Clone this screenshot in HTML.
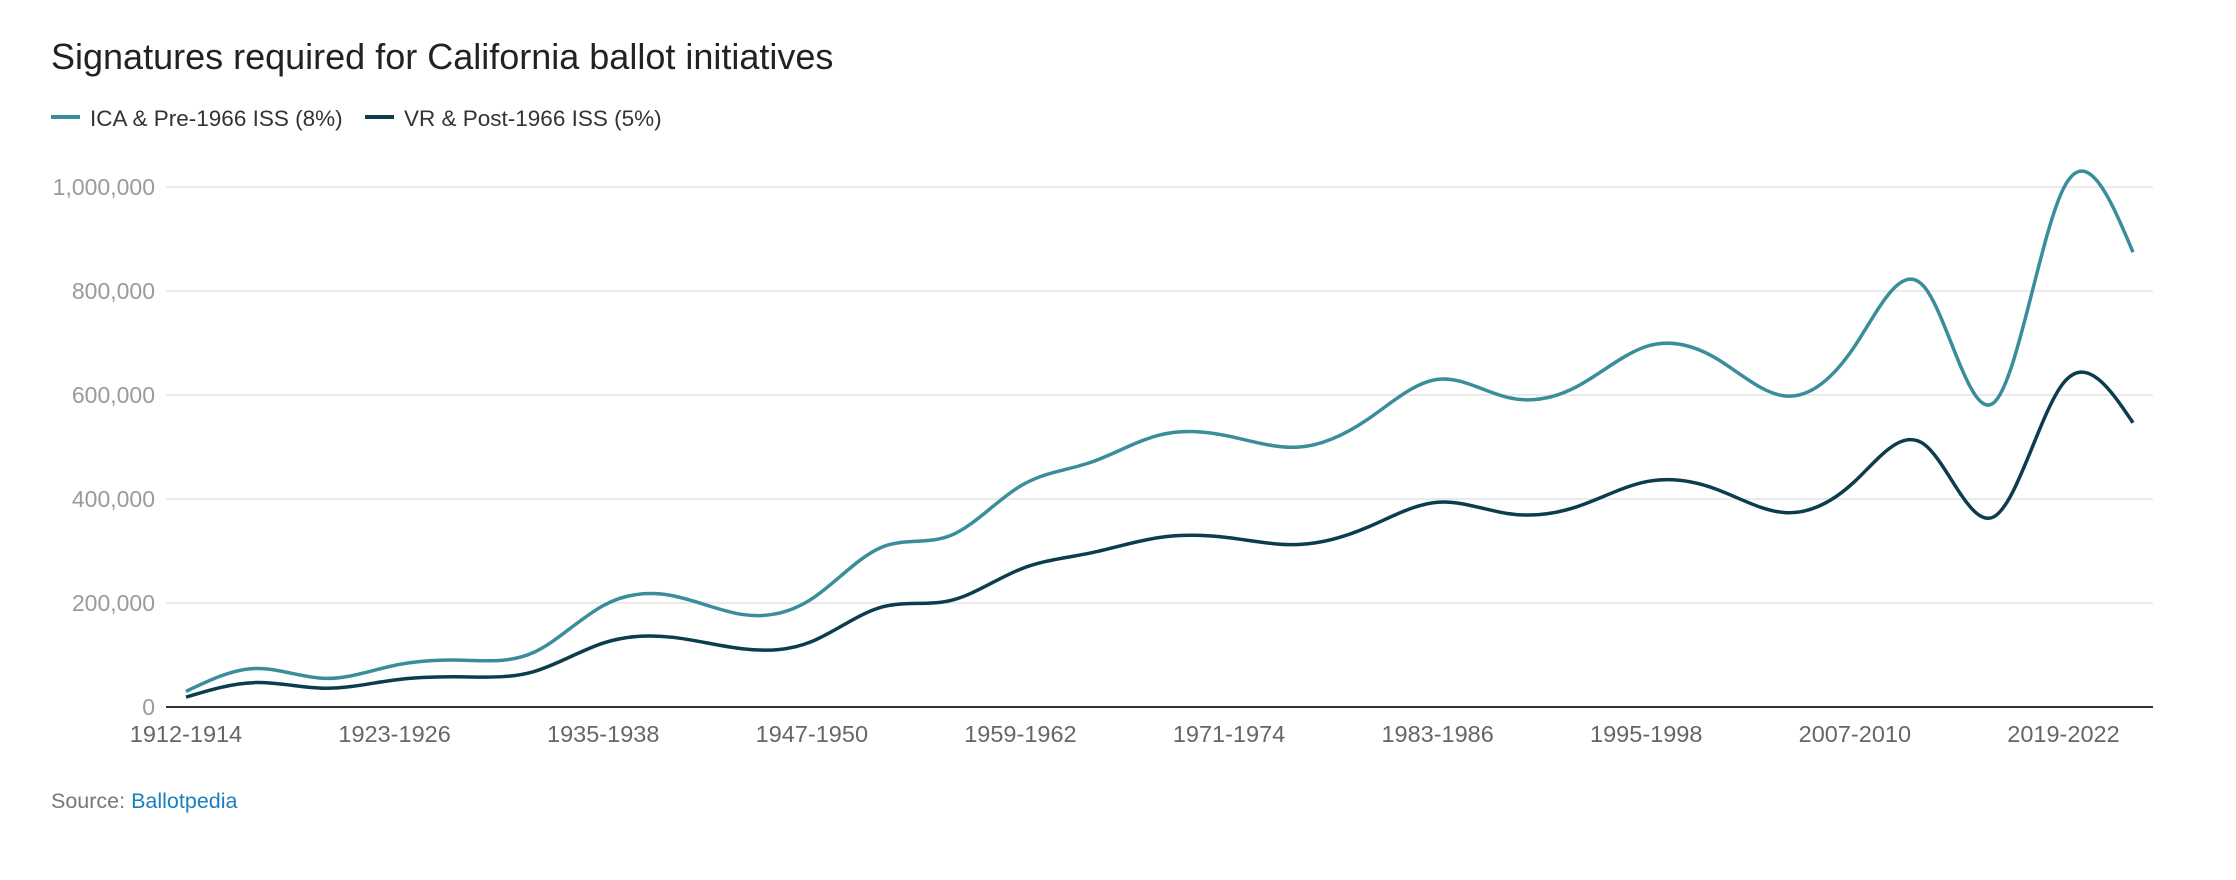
<!DOCTYPE html>
<html><head><meta charset="utf-8"><style>
body{margin:0;background:#fff;font-family:"Liberation Sans",sans-serif;}
svg{display:block}
</style></head><body>
<svg id="chart" width="2236" height="880" xmlns="http://www.w3.org/2000/svg">
<text x="51" y="69" font-size="36" fill="#222">Signatures required for California ballot initiatives</text>
<g>
<g><rect x="51" y="115" width="29" height="4" fill="#3a8d9b"/><text x="90" y="126" font-size="22.5" fill="#333">ICA &amp; Pre-1966 ISS (8%)</text></g>
<g><rect x="365" y="115" width="29" height="4" fill="#0b3d4d"/><text x="404" y="126" font-size="22.5" fill="#333">VR &amp; Post-1966 ISS (5%)</text></g>
</g>
<g id="grid"></g>
<g id="yt"></g>
<g id="xt"></g>
<g id="lines"></g>
<text x="51" y="808" font-size="21.5" fill="#777">Source: <tspan fill="#1a7fc1">Ballotpedia</tspan></text>
</svg>
<script>
const categories=["1912-1914","1915-1918","1919-1922","1923-1926","1927-1930","1931-1934","1935-1938","1939-1942","1943-1946","1947-1950","1951-1954","1955-1958","1959-1962","1963-1966","1967-1970","1971-1974","1975-1978","1979-1982","1983-1986","1987-1990","1991-1994","1995-1998","1999-2002","2003-2006","2007-2010","2011-2014","2015-2018","2019-2022","2023-2026"];
const icaValues=[30000,74000,55000,80000,90000,105000,195000,214000,178000,208000,307000,330000,425000,470000,523000,520806,499846,553790,630136,595485,615958,693230,670816,598105,694354,807615,585407,997139,874641];
const vrValues=[19000,47000,36000,52000,58000,68000,123000,134000,112000,126000,192000,205000,265000,296000,326000,325504,312404,346119,393835,372178,384974,433269,419260,373816,433971,504760,365880,623212,546651];
const yTicks=[0,200000,400000,600000,800000,1000000];
const yTickLabels=["0","200,000","400,000","600,000","800,000","1,000,000"];
const xLabelEvery=3;

const NS="http://www.w3.org/2000/svg";
const L=166,R=2153,Y0=707,Y1=187,X0=186,X1=2133;
const xs=i=>X0+(X1-X0)*i/(categories.length-1);
const ys=v=>Y0-(Y0-Y1)*v/1000000;
function mk(t,a,p){const e=document.createElementNS(NS,t);for(const k in a)e.setAttribute(k,a[k]);p.appendChild(e);return e;}
const grid=document.getElementById('grid'),yt=document.getElementById('yt'),xt=document.getElementById('xt'),lines=document.getElementById('lines');
yTicks.forEach((v,i)=>{
  if(v>0){const g=mk('line',{x1:L,x2:R,y1:ys(v),y2:ys(v),stroke:'#e3e3e3','stroke-width':1.5},grid);
  
  }
  const t=mk('text',{x:155,y:ys(v)+8,'text-anchor':'end','font-size':23,fill:'#9a9a9a'},yt);
  
  
  t.textContent=yTickLabels[i];
});
const ax=mk('line',{x1:L,x2:R,y1:Y0,y2:Y0,stroke:'#333','stroke-width':2},grid);


categories.forEach((c,i)=>{
  if(i%xLabelEvery!==0)return;
  const t=mk('text',{x:xs(i),y:742,'text-anchor':'middle','font-size':23.5,fill:'#666'},xt);
  
  
  t.textContent=c;
});
function naturalCtrl(x){
  const n=x.length-1;const a=new Array(n),b=new Array(n),r=new Array(n);
  a[0]=0;b[0]=2;r[0]=x[0]+2*x[1];
  for(let i=1;i<n-1;i++){a[i]=1;b[i]=4;r[i]=4*x[i]+2*x[i+1];}
  a[n-1]=2;b[n-1]=7;r[n-1]=8*x[n-1]+x[n];
  for(let i=1;i<n;i++){const m=a[i]/b[i-1];b[i]-=m;r[i]-=m*r[i-1];}
  a[n-1]=r[n-1]/b[n-1];
  for(let i=n-2;i>=0;i--)a[i]=(r[i]-a[i+1])/b[i];
  b[n-1]=(x[n]+a[n-1])/2;
  for(let i=0;i<n-1;i++)b[i]=2*x[i+1]-a[i+1];
  return [a,b];
}
function path(vals){
  const px=vals.map((v,i)=>xs(i)),py=vals.map(v=>ys(v));
  const [ax1,bx1]=naturalCtrl(px),[ay1,by1]=naturalCtrl(py);
  let d=`M${px[0]},${py[0]}`;
  for(let i=0;i<px.length-1;i++)d+=`C${ax1[i]},${ay1[i]} ${bx1[i]},${by1[i]} ${px[i+1]},${py[i+1]}`;
  return d;
}
const l1=mk('path',{d:path(icaValues),fill:'none',stroke:'#3a8d9b','stroke-width':3.5},lines);


const l2=mk('path',{d:path(vrValues),fill:'none',stroke:'#0b3d4d','stroke-width':3.5},lines);


</script>
</body></html>
